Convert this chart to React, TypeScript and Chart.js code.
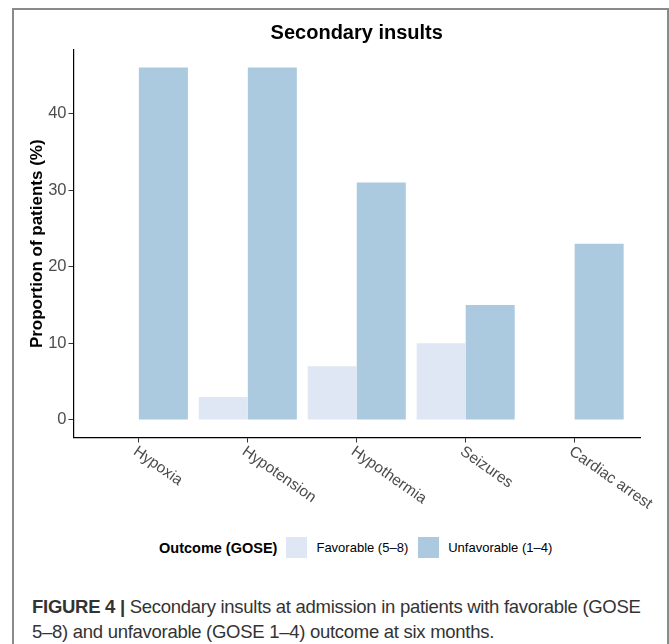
import React, { useEffect, useRef } from "react";
import { Chart, registerables } from "chart.js";

Chart.register(...registerables);

const categories = ["Hypoxia", "Hypotension", "Hypothermia", "Seizures", "Cardiac arrest"];
const favorable = [0, 3, 7, 10, 0];
const unfavorable = [46, 46, 31, 15, 23];
const seriesNames = ["Favorable (5–8)", "Unfavorable (1–4)"];
const seriesColors = ["#DFE7F4", "#ABC9DF"];
const yTicks = [0, 10, 20, 30, 40];
const chartTitle = "Secondary insults";
const yTitle = "Proportion of patients (%)";
const legendTitle = "Outcome (GOSE)";
const captionBold = "FIGURE 4 |";
const captionLine1 = " Secondary insults at admission in patients with favorable (GOSE";
const captionLine2 = "5–8) and unfavorable (GOSE 1–4) outcome at six months.";

const FONT = '"Liberation Sans", Arial, Helvetica, sans-serif';

const xLabelPlugin = {
  id: "rotatedXLabels",
  afterDraw(chart: any) {
    const { ctx, chartArea } = chart;
    const x = chart.scales.x;
    ctx.save();
    ctx.font = `15.5px ${FONT}`;
    ctx.fillStyle = "#4D4D4D";
    ctx.textAlign = "left";
    ctx.textBaseline = "middle";
    categories.forEach((c, i) => {
      const px = x.getPixelForValue(i);
      ctx.save();
      ctx.translate(px - 4, chartArea.bottom + 12.5);
      ctx.rotate((35 * Math.PI) / 180);
      ctx.fillText(c, 0, 0);
      ctx.restore();
    });
    ctx.restore();
  },
};

function BarChart() {
  const ref = useRef<HTMLCanvasElement | null>(null);
  useEffect(() => {
    if (!ref.current) return;
    const chart = new Chart(ref.current, {
      type: "bar",
      data: {
        datasets: [
          {
            label: seriesNames[0],
            data: favorable.map((v, i) => ({ x: i, y: v })),
            backgroundColor: seriesColors[0],
            borderWidth: 0,
            categoryPercentage: 0.9,
            barPercentage: 1,
          },
          {
            label: seriesNames[1],
            data: unfavorable.map((v, i) => ({ x: i, y: v })),
            backgroundColor: seriesColors[1],
            borderWidth: 0,
            categoryPercentage: 0.9,
            barPercentage: 1,
          },
        ],
      },
      options: {
        responsive: false,
        animation: false,
        layout: { padding: { left: 14, right: 29, top: 0, bottom: 87.5 } },
        plugins: {
          legend: { display: false },
          tooltip: { enabled: false },
          title: {
            display: true,
            text: chartTitle,
            fullSize: false,
            color: "#000",
            font: { size: 20, weight: "bold", family: FONT },
            padding: { top: 21, bottom: 5 },
          },
        },
        scales: {
          x: {
            type: "linear",
            min: -0.6,
            max: 4.6,
            offset: false,
            afterBuildTicks: (axis: any) => {
              axis.ticks = categories.map((_, i) => ({ value: i }));
            },
            ticks: { display: false },
            grid: {
              display: true,
              offset: false,
              drawOnChartArea: false,
              drawTicks: true,
              tickLength: 5,
              color: "#333",
              lineWidth: 1,
            },
            border: { display: true, color: "#000", width: 1.2 },
          },
          y: {
            min: -2.3,
            max: 48.3,
            afterBuildTicks: (axis: any) => {
              axis.ticks = yTicks.map((v) => ({ value: v }));
            },
            afterFit: (s: any) => {
              s.width = 59.5;
            },
            ticks: {
              color: "#4D4D4D",
              font: { size: 16.5, family: FONT },
              padding: 2,
            },
            grid: {
              display: true,
              drawOnChartArea: false,
              drawTicks: true,
              tickLength: 5,
              color: "#333",
              lineWidth: 1,
            },
            border: { display: true, color: "#000", width: 1.2 },
            title: {
              display: true,
              text: yTitle,
              color: "#000",
              font: { size: 17, weight: "bold", family: FONT },
              padding: { top: 12.8, bottom: 0 },
            },
          },
        },
      } as any,
      plugins: [xLabelPlugin],
    });
    return () => chart.destroy();
  }, []);
  return <canvas ref={ref} width={669} height={530} style={{ width: 669, height: 530, display: "block" }} />;
}

export default function App() {
  return (
    <div
      style={{
        position: "absolute",
        left: 0,
        top: 0,
        width: 669,
        height: 644,
        overflow: "hidden",
        background: "#fff",
        fontFamily: FONT,
      }}
    >
      <div
        style={{
          position: "absolute",
          left: 12,
          top: 8,
          width: 653,
          height: 660,
          border: "2px solid #8a8a8a",
        }}
      />
      <div style={{ position: "absolute", left: 0, top: 0 }}>
        <BarChart />
      </div>
      <div
        style={{
          position: "absolute",
          left: 159,
          top: 537,
          height: 21,
          display: "flex",
          alignItems: "center",
          whiteSpace: "nowrap",
          color: "#000",
        }}
      >
        <span style={{ fontWeight: "bold", fontSize: 14.5, marginRight: 9 }}>{legendTitle}</span>
        {seriesNames.map((n, i) => (
          <React.Fragment key={n}>
            <span
              style={{
                display: "inline-block",
                width: 21,
                height: 21,
                background: seriesColors[i],
                marginRight: 9,
              }}
            />
            <span style={{ fontSize: 13, marginRight: 10 }}>{n}</span>
          </React.Fragment>
        ))}
      </div>
      <div
        style={{
          position: "absolute",
          left: 32,
          top: 594,
          fontSize: 18.5,
          letterSpacing: "-0.28px",
          lineHeight: "25px",
          color: "#333",
          whiteSpace: "nowrap",
        }}
      >
        <div>
          <b>{captionBold}</b>
          {captionLine1}
        </div>
        <div>{captionLine2}</div>
      </div>
    </div>
  );
}
